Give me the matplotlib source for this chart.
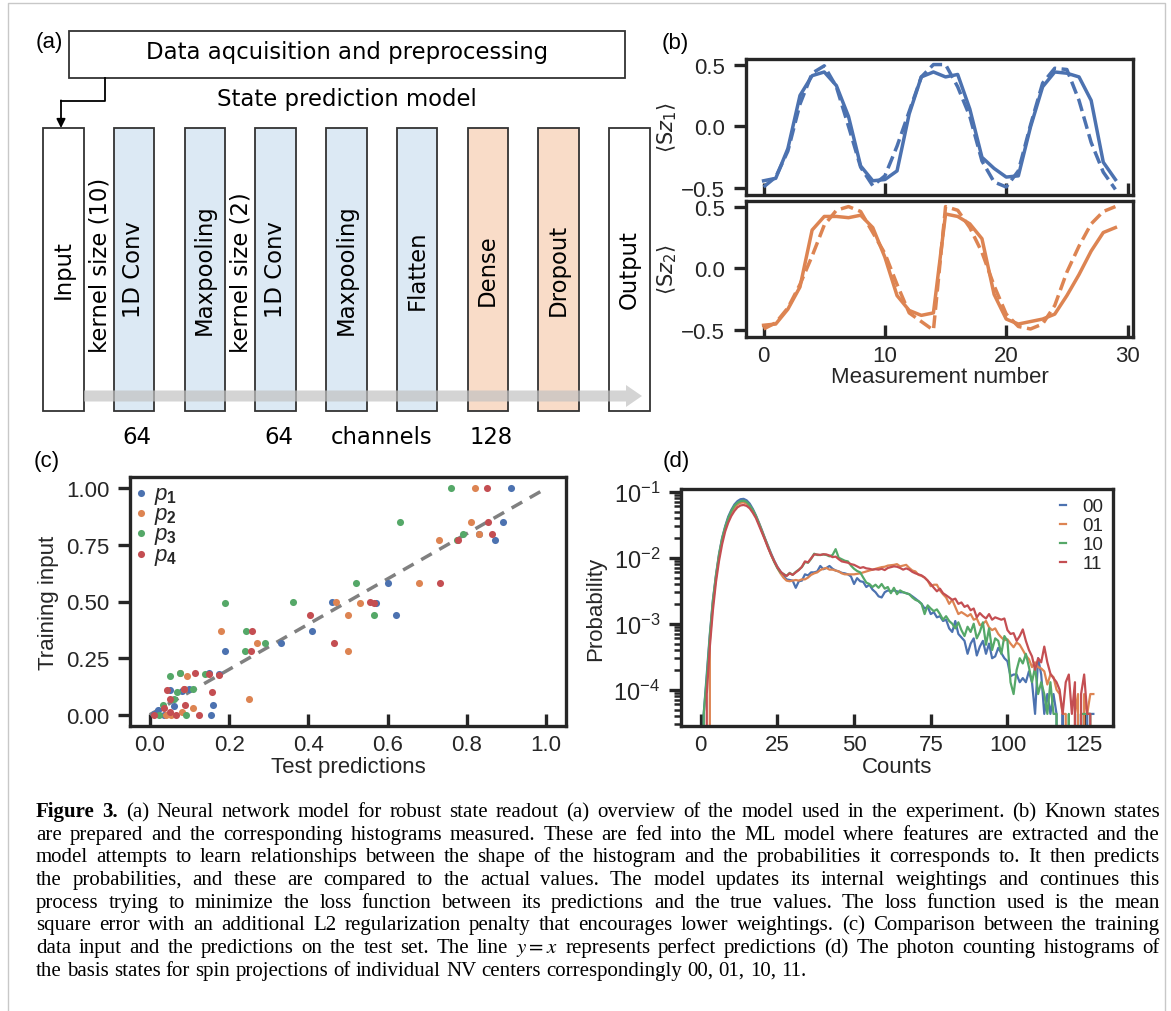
import numpy as np
import matplotlib
matplotlib.use('Agg')
import matplotlib.pyplot as plt
from matplotlib.patches import Rectangle, FancyArrow

W, H = 1171, 1012

# ---------------- data ----------------
# (a) network layers
layer_names = ['Input', '1D Conv', 'Maxpooling', '1D Conv', 'Maxpooling',
               'Flatten', 'Dense', 'Dropout', 'Output']
layer_kind = ['io', 'conv', 'conv', 'conv', 'conv', 'conv', 'dense', 'dense', 'io']
kernel_notes = [(1, 'kernel size (10)'), (3, 'kernel size (2)')]
size_notes = [(1, '64'), (3, '64'), (4.45, 'channels'), (6, '128')]

# (b) spin expectation values
meas_idx = np.arange(30)
sz1_solid = [-0.44, -0.42, -0.18, 0.25, 0.41, 0.44, 0.33, 0.08, -0.32, -0.44,
             -0.43, -0.36, 0.10, 0.40, 0.44, 0.40, 0.42, 0.14, -0.25, -0.34,
             -0.41, -0.40, -0.005, 0.32, 0.44, 0.43, 0.40, 0.21, -0.29, -0.43]
sz1_dashed = [-0.49, -0.41, -0.20, 0.18, 0.43, 0.49, 0.32, 0.00, -0.33, -0.48,
              -0.40, -0.16, 0.12, 0.40, 0.50, 0.50, 0.32, 0.08, -0.28, -0.45,
              -0.49, -0.36, 0.01, 0.35, 0.47, 0.46, 0.21, -0.13, -0.37, -0.51]
sz2_solid = [-0.46, -0.45, -0.33, -0.15, 0.31, 0.42, 0.42, 0.41, 0.43, 0.33,
             0.09, -0.22, -0.34, -0.38, -0.36, 0.44, 0.42, 0.36, 0.24, -0.21,
             -0.41, -0.45, -0.43, -0.41, -0.37, -0.22, -0.05, 0.14, 0.29, 0.33]
sz2_dashed = [-0.49, -0.44, -0.32, -0.13, 0.10, 0.35, 0.47, 0.50, 0.46, 0.29,
              0.12, -0.13, -0.36, -0.43, -0.50, 0.50, 0.47, 0.33, 0.13, -0.14,
              -0.37, -0.47, -0.49, -0.45, -0.30, -0.03, 0.18, 0.36, 0.46, 0.50]

# (c) training input vs test predictions
p1_x = [0.91, 0.89, 0.83, 0.87, 0.60, 0.46, 0.57, 0.62, 0.41, 0.33, 0.19,
        0.15, 0.174, 0.16, 0.155, 0.08, 0.10, 0.05, 0.06, 0.02, 0.01, 0.035]
p1_y = [1.00, 0.85, 0.80, 0.77, 0.58, 0.50, 0.495, 0.44, 0.37, 0.315, 0.28,
        0.185, 0.18, 0.043, 0.0, 0.105, 0.115, 0.11, 0.04, 0.02, 0.005, 0.0]
p2_x = [0.82, 0.81, 0.83, 0.73, 0.68, 0.47, 0.53, 0.50, 0.50, 0.27, 0.18,
        0.25, 0.11, 0.095, 0.077, 0.086, 0.08, 0.054, 0.04]
p2_y = [1.00, 0.85, 0.80, 0.77, 0.58, 0.50, 0.495, 0.44, 0.28, 0.315, 0.37,
        0.07, 0.03, 0.17, 0.185, 0.115, 0.01, 0.0, 0.0]
p3_x = [0.76, 0.63, 0.79, 0.775, 0.52, 0.36, 0.19, 0.565, 0.243, 0.24, 0.29,
        0.14, 0.077, 0.05, 0.11, 0.068, 0.06, 0.032, 0.092, 0.023]
p3_y = [1.00, 0.85, 0.80, 0.77, 0.58, 0.50, 0.495, 0.44, 0.37, 0.28, 0.315,
        0.18, 0.185, 0.17, 0.115, 0.10, 0.068, 0.043, 0.0, 0.0]
p4_x = [0.85, 0.853, 0.864, 0.778, 0.733, 0.555, 0.566, 0.403, 0.464, 0.258,
        0.255, 0.15, 0.174, 0.113, 0.157, 0.086, 0.043, 0.05, 0.088, 0.036,
        0.052, 0.065, 0.125, 0.01]
p4_y = [1.00, 0.85, 0.80, 0.77, 0.58, 0.50, 0.495, 0.44, 0.315, 0.37, 0.28,
        0.178, 0.175, 0.186, 0.10, 0.115, 0.11, 0.07, 0.043, 0.03, 0.013,
        0.0, 0.0, 0.0]
ideal_line = [0, 1]

# (d) photon counting histograms
counts = np.arange(129)
hist_00 = [0, 4.3e-5, 1.7e-4, 7.0e-4, 2.3e-3, 5.5e-3, 1.15e-2, 2.0e-2, 3.0e-2, 4.2e-2,
           5.3e-2, 6.4e-2, 7.2e-2, 7.7e-2, 7.8e-2, 7.4e-2, 6.6e-2, 5.5e-2, 4.4e-2, 3.4e-2,
           2.6e-2, 1.95e-2, 1.5e-2, 1.15e-2, 9.0e-3, 7.3e-3, 6.2e-3, 5.3e-3, 4.7e-3, 4.6e-3,
           4.5e-3, 3.5e-3, 4.4e-3, 4.5e-3, 5.6e-3, 5.4e-3, 6.0e-3, 6.0e-3, 6.2e-3, 7.5e-3,
           6.7e-3, 7.0e-3, 7.5e-3, 6.8e-3, 6.4e-3, 6.2e-3, 5.9e-3, 5.8e-3, 5.6e-3, 5.2e-3,
           4.0e-3, 4.9e-3, 4.4e-3, 4.3e-3, 3.6e-3, 3.9e-3, 3.3e-3, 3.0e-3, 2.6e-3, 2.5e-3,
           3.0e-3, 3.2e-3, 3.1e-3, 3.2e-3, 3.1e-3, 3.0e-3, 3.0e-3, 2.9e-3, 2.8e-3, 2.6e-3,
           2.4e-3, 2.2e-3, 2.0e-3, 1.7e-3, 1.8e-3, 1.4e-3, 1.5e-3, 1.25e-3, 1.3e-3, 1.1e-3,
           1.15e-3, 8.5e-4, 7.5e-4, 1.1e-3, 7.0e-4, 6.2e-4, 5.5e-4, 3.5e-4, 5.0e-4, 6.0e-4,
           3.3e-4, 4.5e-4, 5.5e-4, 3.5e-4, 5.0e-4, 3.0e-4, 3.2e-4, 4.3e-4, 3.6e-4, 3.0e-4,
           2.7e-4, 1.6e-4, 1.7e-4, 1.7e-4, 1.3e-4, 1.5e-4, 1.3e-4, 1.9e-4, 1.3e-4, 4.3e-5,
           3.0e-4, 1.7e-4, 4.3e-5, 8.6e-5, 4.3e-5, 8.6e-5, 4.3e-5, 0, 4.3e-5, 0,
           0, 0, 0, 4.3e-5, 0, 0, 4.3e-5, 4.3e-5, 4.3e-5]
hist_01 = [0, 0, 0, 5.5e-4, 2.0e-3, 5.0e-3, 1.05e-2, 1.85e-2, 2.8e-2, 3.8e-2,
           4.8e-2, 5.7e-2, 6.4e-2, 6.8e-2, 6.9e-2, 6.6e-2, 6.0e-2, 5.1e-2, 4.2e-2, 3.3e-2,
           2.5e-2, 1.9e-2, 1.45e-2, 1.1e-2, 8.8e-3, 7.0e-3, 5.8e-3, 5.0e-3, 4.5e-3, 4.4e-3,
           4.5e-3, 4.6e-3, 4.5e-3, 4.7e-3, 4.7e-3, 5.0e-3, 5.5e-3, 5.8e-3, 6.0e-3, 6.5e-3,
           6.8e-3, 7.0e-3, 6.6e-3, 6.6e-3, 6.4e-3, 6.2e-3, 5.8e-3, 5.6e-3, 5.6e-3, 5.6e-3,
           5.6e-3, 5.7e-3, 5.8e-3, 6.0e-3, 6.2e-3, 6.4e-3, 6.6e-3, 6.8e-3, 7.0e-3, 7.2e-3,
           7.3e-3, 7.6e-3, 7.7e-3, 7.8e-3, 8.0e-3, 7.4e-3, 7.6e-3, 7.8e-3, 7.0e-3, 6.4e-3,
           6.2e-3, 5.5e-3, 5.3e-3, 5.0e-3, 4.5e-3, 3.7e-3, 3.9e-3, 3.9e-3, 3.2e-3, 2.8e-3,
           2.5e-3, 2.0e-3, 2.3e-3, 1.8e-3, 1.4e-3, 1.5e-3, 1.4e-3, 1.3e-3, 1.4e-3, 1.15e-3,
           1.2e-3, 9.5e-4, 1.0e-3, 1.1e-3, 8.8e-4, 8.0e-4, 8.5e-4, 7.0e-4, 6.2e-4, 5.6e-4,
           5.8e-4, 5.0e-4, 4.4e-4, 5.2e-4, 4.8e-4, 4.0e-4, 3.3e-4, 2.9e-4, 2.2e-4, 2.6e-4,
           2.2e-4, 2.1e-4, 1.9e-4, 1.2e-4, 1.7e-4, 1.55e-4, 1.0e-4, 8.6e-5, 4.3e-5, 4.3e-5,
           0, 0, 4.3e-5, 8.6e-5, 0, 8.6e-5, 4.3e-5, 8.6e-5, 8.6e-5]
hist_10 = [0, 4.3e-5, 1.5e-4, 6.5e-4, 2.2e-3, 5.3e-3, 1.1e-2, 1.95e-2, 2.9e-2, 4.0e-2,
           5.1e-2, 6.1e-2, 6.8e-2, 7.2e-2, 7.3e-2, 7.0e-2, 6.2e-2, 5.3e-2, 4.3e-2, 3.3e-2,
           2.5e-2, 1.9e-2, 1.45e-2, 1.1e-2, 8.6e-3, 7.0e-3, 6.0e-3, 5.7e-3, 5.3e-3, 5.9e-3,
           5.5e-3, 6.1e-3, 6.6e-3, 7.2e-3, 8.6e-3, 8.4e-3, 9.6e-3, 1.15e-2, 1.1e-2, 1.1e-2,
           1.12e-2, 1.1e-2, 1.05e-2, 1.1e-2, 1.35e-2, 1.0e-2, 9.5e-3, 9.0e-3, 8.8e-3, 7.6e-3,
           6.8e-3, 6.3e-3, 6.0e-3, 5.0e-3, 4.2e-3, 4.0e-3, 3.6e-3, 3.9e-3, 3.5e-3, 4.0e-3,
           3.4e-3, 3.6e-3, 2.9e-3, 3.5e-3, 2.8e-3, 3.2e-3, 3.0e-3, 2.9e-3, 2.8e-3, 2.5e-3,
           2.3e-3, 2.2e-3, 2.0e-3, 1.4e-3, 1.9e-3, 1.7e-3, 1.55e-3, 1.65e-3, 1.4e-3, 1.15e-3,
           1.3e-3, 1.1e-3, 1.0e-3, 8.5e-4, 1.05e-3, 8.0e-4, 6.5e-4, 9.0e-4, 7.5e-4, 1.0e-3,
           6.0e-4, 7.5e-4, 1.05e-3, 4.8e-4, 8.5e-4, 4.0e-4, 6.0e-4, 5.5e-4, 3.5e-4, 6.5e-4,
           5.5e-4, 1.3e-4, 8.6e-5, 2.0e-4, 3.0e-4, 2.5e-4, 3.5e-4, 2.2e-4, 1.3e-4, 2.2e-4,
           8.6e-5, 1.3e-4, 8.6e-5, 4.3e-5, 1.3e-4, 4.3e-5, 4.3e-5, 0, 0, 0,
           4.3e-5, 0, 0, 0, 4.3e-5, 4.3e-5, 4.3e-5, 4.3e-5, 0]
hist_11 = [0, 0, 8.6e-5, 4.5e-4, 1.6e-3, 4.3e-3, 9.0e-3, 1.6e-2, 2.5e-2, 3.4e-2,
           4.3e-2, 5.1e-2, 5.8e-2, 6.2e-2, 6.3e-2, 6.1e-2, 5.6e-2, 4.8e-2, 4.0e-2, 3.1e-2,
           2.4e-2, 1.85e-2, 1.4e-2, 1.1e-2, 8.8e-3, 7.2e-3, 6.2e-3, 5.6e-3, 5.3e-3, 5.8e-3,
           5.5e-3, 6.0e-3, 6.5e-3, 7.3e-3, 8.8e-3, 8.5e-3, 9.8e-3, 1.12e-2, 1.12e-2, 1.1e-2,
           1.13e-2, 1.12e-2, 1.08e-2, 1.02e-2, 1.04e-2, 9.5e-3, 8.8e-3, 8.6e-3, 8.4e-3, 8.0e-3,
           7.8e-3, 7.4e-3, 7.0e-3, 7.2e-3, 6.9e-3, 6.8e-3, 6.6e-3, 6.7e-3, 6.6e-3, 6.8e-3,
           6.5e-3, 7.0e-3, 7.2e-3, 7.4e-3, 7.3e-3, 7.0e-3, 6.6e-3, 6.9e-3, 6.6e-3, 6.1e-3,
           5.8e-3, 5.6e-3, 5.4e-3, 5.0e-3, 4.5e-3, 4.0e-3, 3.5e-3, 3.1e-3, 3.4e-3, 2.9e-3,
           2.7e-3, 2.5e-3, 2.3e-3, 2.4e-3, 2.0e-3, 2.1e-3, 1.8e-3, 1.9e-3, 1.6e-3, 1.7e-3,
           1.25e-3, 1.45e-3, 1.3e-3, 1.2e-3, 1.4e-3, 1.15e-3, 1.25e-3, 1.2e-3, 1.15e-3, 1.2e-3,
           8.0e-4, 7.0e-4, 7.2e-4, 5.5e-4, 6.5e-4, 8.2e-4, 5.5e-4, 4.0e-4, 3.2e-4, 2.0e-4,
           3.0e-4, 2.6e-4, 4.5e-4, 2.6e-4, 1.75e-4, 1.5e-4, 1.3e-4, 1.0e-4, 4.3e-5, 1.3e-4,
           1.7e-4, 4.3e-5, 1.3e-4, 0, 8.6e-5, 1.7e-4, 4.3e-5, 4.3e-5, 0]
hist_labels = ['00', '01', '10', '11']

caption_lines = [
    'Figure 3. (a) Neural network model for robust state readout (a) overview of the model used in the experiment. (b) Known states',
    'are prepared and the corresponding histograms measured. These are fed into the ML model where features are extracted and the',
    'model attempts to learn relationships between the shape of the histogram and the probabilities it corresponds to. It then predicts',
    'the probabilities, and these are compared to the actual values. The model updates its internal weightings and continues this',
    'process trying to minimize the loss function between its predictions and the true values. The loss function used is the mean',
    'square error with an additional L2 regularization penalty that encourages lower weightings. (c) Comparison between the training',
    'data input and the predictions on the test set. The line $y=x$ represents perfect predictions (d) The photon counting histograms of',
    'the basis states for spin projections of individual NV centers correspondingly 00, 01, 10, 11.',
]

colors = ['#4C72B0', '#DD8452', '#55A868', '#C44E52']
dark = '#262626'

plt.rcParams.update({
    'font.family': ['Liberation Sans', 'DejaVu Sans'],
    'font.size': 16,
    'mathtext.fontset': 'custom',
    'mathtext.rm': 'Liberation Sans',
    'mathtext.it': 'Liberation Sans:italic',
    'mathtext.bf': 'Liberation Sans:bold',
    'axes.linewidth': 2.4,
    'axes.edgecolor': dark,
    'axes.labelcolor': dark,
    'text.color': dark,
    'xtick.color': dark,
    'ytick.color': dark,
    'xtick.direction': 'in',
    'ytick.direction': 'out',
    'xtick.major.size': 9,
    'ytick.major.size': 9,
    'xtick.major.width': 2.4,
    'ytick.major.width': 2.4,
    'ytick.minor.size': 5,
    'ytick.minor.width': 1.8,
    'xtick.major.pad': 6,
    'ytick.major.pad': 6,
    'xtick.labelsize': 16,
    'ytick.labelsize': 16,
})

fig = plt.figure(figsize=(W / 100, H / 100), dpi=100)


def px_box(l, t, r, b):
    return [l / W, 1 - b / H, (r - l) / W, (b - t) / H]


# ---------------- (a) model diagram ----------------
ax_a = fig.add_axes([0, 0, 1, 1])
ax_a.set_xlim(0, W)
ax_a.set_ylim(H, 0)
ax_a.axis('off')

# light outer frame
ax_a.plot([8, 8, 1165, 1165], [H + 5, 4, 4, H + 5], color='#c8c8c8', lw=1)

diag_font = dict(family='DejaVu Sans', fontsize=16.4, color='black')
ax_a.add_patch(Rectangle((69, 32), 556, 47, fc='white', ec='#333333', lw=1.3))
ax_a.text(347, 52, 'Data aqcuisition and preprocessing', ha='center', va='center', **diag_font)
ax_a.text(347, 99, 'State prediction model', ha='center', va='center', **diag_font)
ax_a.plot([105, 105, 61], [79, 102, 102], color='black', lw=1.3)
ax_a.annotate('', xy=(61, 129), xytext=(61, 101.4),
              arrowprops=dict(arrowstyle='-|>', color='black', lw=1.3,
                              mutation_scale=13, shrinkA=0, shrinkB=0))

fills = {'io': 'white', 'conv': '#dce9f4', 'dense': '#f9dcc8'}
x0, pitch, bw, top, bot = 43, 70.75, 40.5, 129, 412
for i, (name, kind) in enumerate(zip(layer_names, layer_kind)):
    left = x0 + i * pitch
    ax_a.add_patch(Rectangle((left, top), bw, bot - top, fc=fills[kind],
                             ec='#333333', lw=1.3, zorder=2))
    ax_a.text(left + bw / 2, 270, name, rotation=90, ha='center', va='center',
              zorder=5, **diag_font)
for i, note in kernel_notes:
    ax_a.text(x0 + i * pitch - 14, 353, note, rotation=90, ha='center', va='bottom',
              zorder=5, **diag_font)
for pos, note in size_notes:
    ax_a.text(x0 + pos * pitch + bw / 2 + 3, 438, note, ha='center', va='center', **diag_font)

ax_a.add_patch(FancyArrow(84, 397, 558, 0, width=11, head_width=22, head_length=16,
                          length_includes_head=True, color='#c2c2c2', alpha=0.7,
                          lw=0, zorder=4))

# panel letters
for lab, (px, py) in zip(['(a)', '(b)', '(c)', '(d)'],
                         [(49, 42), (675, 43), (47, 461), (676, 461)]):
    ax_a.text(px, py, lab, ha='center', va='center', fontsize=16, color='black')

# ---------------- (b) expectation values ----------------
axb1 = fig.add_axes(px_box(746, 60, 1133, 196))
axb2 = fig.add_axes(px_box(746, 202, 1133, 338))
for ax, solid, dashed, col, lab in [
        (axb1, sz1_solid, sz1_dashed, colors[0], r'$\langle \mathrm{S}z_1 \rangle$'),
        (axb2, sz2_solid, sz2_dashed, colors[1], r'$\langle \mathrm{S}z_2 \rangle$')]:
    ax.plot(meas_idx, solid, color=col, lw=2.5)
    ax.plot(meas_idx, dashed, color=col, lw=2.5, ls='--')
    ax.set_xlim(-1.45, 30.45)
    ax.set_ylim(-0.555, 0.545)
    ax.set_xticks([0, 10, 20, 30])
    ax.set_yticks([-0.5, 0.0, 0.5])
    ax.set_ylabel(lab, fontsize=15, math_fontfamily='dejavusans')
    ax.yaxis.set_label_coords(-0.172, 0.5)
axb1.tick_params(labelbottom=False)
axb2.set_xlabel('Measurement number', fontsize=16)
axb2.xaxis.set_label_coords(0.5, -0.215)

# ---------------- (c) predictions ----------------
axc = fig.add_axes(px_box(130, 478, 566, 727))
for xs, ys, col, lab in zip([p1_x, p2_x, p3_x, p4_x], [p1_y, p2_y, p3_y, p4_y], colors,
                            [r'$p_{\mathbf{1}}$', r'$p_{\mathbf{2}}$',
                             r'$p_{\mathbf{3}}$', r'$p_{\mathbf{4}}$']):
    axc.scatter(xs, ys, s=26, color=col, lw=0, label=lab, zorder=3)
axc.plot(ideal_line, ideal_line, color='gray', lw=2.5, ls=(0, (3.5, 2.5)), zorder=2)
axc.set_xlim(-0.05, 1.05)
axc.set_ylim(-0.05, 1.05)
axc.set_xticks([0, 0.2, 0.4, 0.6, 0.8, 1.0])
axc.set_yticks([0, 0.25, 0.5, 0.75, 1.0])
axc.set_xlabel('Test predictions', fontsize=16)
axc.set_ylabel('Training input', fontsize=16)
axc.xaxis.set_label_coords(0.5, -0.12)
axc.yaxis.set_label_coords(-0.163, 0.5)
axc.legend(loc='upper left', frameon=False, fontsize=16, handlelength=0.5,
           handletextpad=0.35, labelspacing=-0.12, borderaxespad=0.05, borderpad=0.2)

# ---------------- (d) histograms ----------------
axd = fig.add_axes(px_box(681, 490, 1113, 727))
for hist, col, lab in zip([hist_00, hist_01, hist_10, hist_11], colors, hist_labels):
    axd.plot(counts, hist, color=col, lw=1.6, label=lab)
axd.set_yscale('log')
axd.set_xlim(-6.4, 134.4)
axd.set_ylim(2.82e-5, 0.11)
axd.set_xticks([0, 25, 50, 75, 100, 125])
axd.tick_params(axis='y', labelsize=17)
axd.set_xlabel('Counts', fontsize=16)
axd.set_ylabel('Probability', fontsize=16)
axd.xaxis.set_label_coords(0.5, -0.127)
axd.yaxis.set_label_coords(-0.174, 0.5)
axd.legend(loc='upper right', frameon=False, fontsize=13.5, handlelength=0.3,
           handletextpad=0.9, labelspacing=0.1, borderaxespad=0.1)

# ---------------- caption (justified) ----------------
renderer = fig.canvas.get_renderer()
cap_x0, cap_x1 = 36, 1160
cap_fs = 15
for i, line in enumerate(caption_lines):
    y = 1 - (817 + 22.7 * i) / H
    words = line.split(' ')
    texts = []
    for j, word in enumerate(words):
        bold = (i == 0 and j < 2)
        texts.append(fig.text(0, y, word, fontsize=cap_fs, family='Liberation Serif',
                              weight='bold' if bold else 'normal',
                              math_fontfamily='stix', va='baseline', color='black'))
    widths = [t.get_window_extent(renderer).width for t in texts]
    if i < len(caption_lines) - 1:
        gap = (cap_x1 - cap_x0 - sum(widths)) / (len(words) - 1)
    else:
        gap = cap_fs * 100 / 72 * 0.25
    x = cap_x0
    for t, w in zip(texts, widths):
        t.set_x(x / W)
        x += w + gap

fig.savefig('out.png', dpi=100)
